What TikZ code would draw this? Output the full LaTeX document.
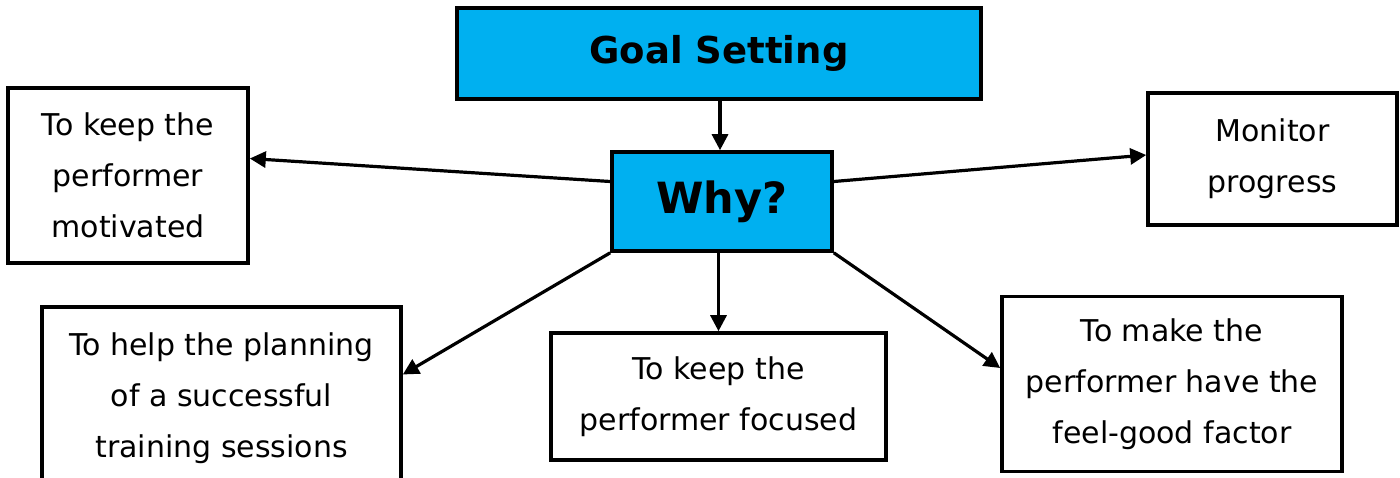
\documentclass[tikz,border=0pt]{standalone}
\usepackage{fontspec}
\setmainfont{DejaVu Sans}
\usetikzlibrary{arrows.meta,calc}
\definecolor{boxblue}{HTML}{00B0F0}
\begin{document}
\begin{tikzpicture}[x=0.5pt,y=-0.5pt,
  box/.style={draw=black,line width=1.8pt,fill=white,align=center,inner sep=0pt,font=\fontsize{15}{25.5}\selectfont},
  bluebox/.style={box,fill=boxblue,font=\bfseries\fontsize{18.5}{24}\selectfont},
  conn/.style={line width=1.6pt,-{Triangle[length=8pt,width=8pt]}}]
\clip (0,0) rectangle (1400,477);
\fill[white] (0,0) rectangle (1400,477);
\node[bluebox,minimum width=262pt,minimum height=45.5pt] (goal) at (719,53.5) {Goal Setting};
\node[bluebox,minimum width=110pt,minimum height=49.5pt,font=\bfseries\fontsize{21.5}{26}\selectfont] (why) at (722,201.5) {Why?};
\node[box,minimum width=120pt,minimum height=87.5pt] (motiv) at (128,175.5) {To keep the\\performer\\motivated};
\node[box,minimum width=124.5pt,minimum height=66pt] (monitor) at (1272.5,159) {Monitor\\progress};
\node[box,minimum width=179.5pt,minimum height=91.5pt] (plan) at (221.5,398.5) {To help the planning\\of a successful\\training sessions};
\node[box,minimum width=167.5pt,minimum height=63.5pt] (focus) at (718.5,396.5) {To keep the\\performer focused};
\node[box,minimum width=170pt,minimum height=87.5pt] (feel) at (1172,384) {To make the\\performer have the\\feel-good factor};
\draw[conn] (goal.south -| 720,0) -- (why.north -| 720,0);
\draw[conn] ($(why.west)+(0,-20)$) -- ($(motiv.east)+(0,-17)$);
\draw[conn] ($(why.east)+(0,-20)$) -- ($(monitor.west)+(0,-4)$);
\draw[conn] (why.south west) -- ($(plan.east)+(0,-24)$);
\draw[conn] (focus.north |- why.south) -- (focus.north);
\draw[conn] (why.south east) -- ($(feel.west)+(0,-16)$);
\end{tikzpicture}
\end{document}
